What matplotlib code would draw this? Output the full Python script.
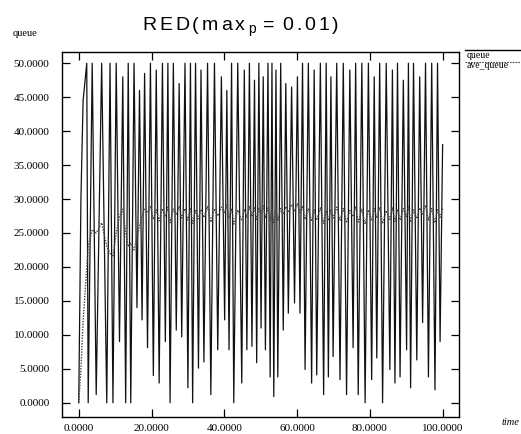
import numpy as np
import matplotlib
matplotlib.use("Agg")
import matplotlib.pyplot as plt
from matplotlib.lines import Line2D

# queue: start-up ramp, then one trough and one peak per cycle
start_t = [0.0, 0.6, 1.2, 2.2]
start_q = [0.0, 30.0, 44.5, 50.0]
start_avg = [0.0, 5.0, 12.0, 20.0]

trough_t = [2.6, 4.8, 7.7, 9.4, 11.2, 12.9, 14.3, 16.0, 17.4, 18.9,
            20.5, 22.1, 23.8, 25.1, 26.8, 28.3, 30.0, 31.3, 32.9, 34.4,
            36.3, 38.2, 40.1, 41.3, 42.6, 44.8, 46.2, 47.6, 48.9, 50.1,
            51.3, 52.6, 53.6, 54.7, 56.2, 57.6, 59.3, 60.8, 62.2, 64.0,
            65.4, 67.3, 68.6, 69.9, 71.8, 73.6, 75.4, 76.8, 78.7, 80.5,
            81.9, 83.5, 85.5, 86.9, 88.3, 90.1, 91.2, 92.9, 94.5, 96.1,
            97.9, 99.3]
trough_q = [0.0, 1.2, 0.0, 0.0, 9.0, 0.0, 0.0, 14.0, 12.2, 8.1,
            4.0, 2.9, 9.0, 0.0, 10.7, 9.7, 2.2, 0.0, 5.1, 6.0,
            1.2, 7.8, 12.2, 7.8, 0.0, 2.9, 7.8, 8.3, 5.9, 11.0,
            7.8, 3.8, 0.9, 3.8, 10.7, 13.2, 14.7, 13.2, 4.9, 2.9,
            4.1, 1.2, 3.8, 6.8, 3.4, 1.2, 8.1, 1.2, 0.0, 3.4,
            6.6, 0.0, 4.9, 2.9, 3.8, 7.8, 2.2, 6.3, 11.8, 3.8,
            1.9, 9.0]
peak_t = [3.7, 6.3, 8.6, 10.3, 12.1, 13.6, 15.2, 16.7, 18.1, 19.7,
          21.3, 23.0, 24.5, 26.0, 27.6, 29.2, 30.7, 32.1, 33.6, 35.4,
          37.3, 39.2, 40.7, 42.0, 43.7, 45.5, 46.9, 48.3, 49.5, 50.7,
          52.0, 53.1, 54.2, 55.5, 56.9, 58.5, 60.1, 61.5, 63.1, 64.7,
          66.4, 68.0, 69.3, 70.9, 72.7, 74.5, 76.1, 77.8, 79.6, 81.2,
          82.7, 84.5, 86.2, 87.6, 89.2, 90.6, 92.0, 93.7, 95.3, 97.0,
          98.6, 100.0]
peak_q = [50, 50, 50, 50, 48, 50, 50, 46, 48.5, 50,
          49, 50, 50, 50, 47, 50, 50, 50, 49, 50,
          50, 48, 46, 50, 50, 49, 50, 47.5, 50, 48,
          50, 50, 49, 50, 47, 46.5, 48, 50, 50, 49,
          50, 50, 48, 50, 50, 49, 50, 50, 50, 48,
          50, 50, 49, 50, 47.5, 50, 50, 48, 50, 50,
          50, 38]

# ave_queue sampled at the same trough / peak instants
avg_trough = [23.0, 25.0, 23.0, 21.5, 27.5, 25.0, 23.5, 24.5, 27.5, 28.0,
              27.0, 26.8, 27.4, 26.5, 27.8, 27.2, 26.9, 26.4, 27.1, 27.3,
              26.6, 27.5, 28.0, 27.2, 26.3, 26.8, 27.3, 27.4, 27.0, 27.9,
              27.2, 26.8, 26.4, 26.9, 27.7, 28.1, 28.3, 28.0, 27.0, 26.7,
              26.9, 26.4, 26.8, 27.2, 26.9, 26.5, 27.4, 26.6, 26.3, 26.8,
              27.2, 26.4, 27.0, 26.7, 26.9, 27.4, 26.6, 27.1, 27.8, 26.9,
              26.5, 27.3]
avg_peak = [25.5, 26.5, 22.0, 25.0, 28.5, 23.0, 22.5, 26.0, 28.5, 29.0,
            28.4, 28.6, 28.8, 28.5, 28.9, 28.6, 28.7, 28.3, 28.5, 28.9,
            28.6, 28.8, 29.1, 28.6, 28.4, 28.5, 28.9, 28.7, 28.6, 29.0,
            28.7, 28.4, 28.3, 28.6, 28.9, 29.2, 29.3, 29.0, 28.6, 28.4,
            28.7, 28.3, 28.5, 28.8, 28.6, 28.3, 28.9, 28.5, 28.4, 28.6,
            28.8, 28.3, 28.7, 28.5, 28.6, 28.9, 28.4, 28.7, 29.1, 28.6,
            28.4, 28.6]

x_ticks = [0, 20, 40, 60, 80, 100]
y_ticks = [0, 5, 10, 15, 20, 25, 30, 35, 40, 45, 50]

# interleave troughs and peaks into one polyline
t_q = list(start_t)
q = list(start_q)
avg = list(start_avg)
for i in range(len(trough_t)):
    t_q += [trough_t[i], peak_t[i]]
    q += [trough_q[i], peak_q[i]]
    avg += [avg_trough[i], avg_peak[i]]

W, H = 521, 434
fig = plt.figure(figsize=(W / 100, H / 100), dpi=100)
ax = fig.add_axes([62 / W, 1 - 417 / H, 397 / W, 365.3 / H])

ax.plot(t_q, q, color="#111111", lw=0.9, zorder=2)
ax.plot(t_q, avg, color="#444444", lw=1.0, ls=(0, (1, 1)), zorder=3)

ax.set_xlim(-4.6, 104.5)
ax.set_ylim(-2.1, 51.7)
ax.set_xticks(x_ticks)
ax.set_yticks(y_ticks)
ax.set_xticklabels(["%.4f" % v for v in x_ticks])
ax.set_yticklabels(["%.4f" % v for v in y_ticks])
ax.tick_params(direction="in", length=6, width=0.9, top=True, right=True,
               labelsize=8)
ax.tick_params(axis="y", pad=9)
ax.tick_params(axis="x", pad=5)
for lab in ax.get_xticklabels() + ax.get_yticklabels():
    lab.set_fontfamily("Liberation Serif")
for sp in ax.spines.values():
    sp.set_linewidth(1.0)

serif = "Liberation Serif"
fig.text(13 / W, 1 - 36 / H, "queue", fontsize=7.5, family=serif, va="baseline")
fig.text(502 / W, 1 - 425 / H, "time", fontsize=7.5, family=serif,
         style="italic", va="baseline")

# legend outside on the right
fig.add_artist(Line2D([465 / W, 1.0], [1 - 50 / H, 1 - 50 / H],
                      transform=fig.transFigure, color="black", lw=1.0))
fig.text(467 / W, 1 - 57.5 / H, "queue", fontsize=7, family=serif, va="baseline")
fig.add_artist(Line2D([465 / W, 1.0], [1 - 61.5 / H, 1 - 61.5 / H],
                      transform=fig.transFigure, color="#444444", lw=0.8,
                      ls=(0, (1.5, 1))))
fig.text(467 / W, 1 - 68.5 / H, "ave_queue", fontsize=7, family=serif,
         va="baseline")

# letter-spaced title
fig.canvas.draw()
rend = fig.canvas.get_renderer()
title_parts = [("R", 0), ("E", 0), ("D", 0), ("(", 0), ("m", 0), ("a", 0),
               ("x", 0), ("p", 1), (" ", 0), ("=", 0), (" ", 0), ("0", 0),
               (".", 0), ("0", 0), ("1", 0), (")", 0)]
xpos = 142.0
base = 29.5
for ch, sub in title_parts:
    if ch == " ":
        xpos += 5
        continue
    size = 10 if sub else 14
    yy = base + (4 if sub else 0)
    t = fig.text(xpos / W, 1 - yy / H, ch, fontsize=size,
                 family="Liberation Sans", va="baseline", ha="left")
    bb = t.get_window_extent(rend)
    xpos += bb.width + (2.0 if sub else 3.0)

fig.savefig("out.png", dpi=100)
